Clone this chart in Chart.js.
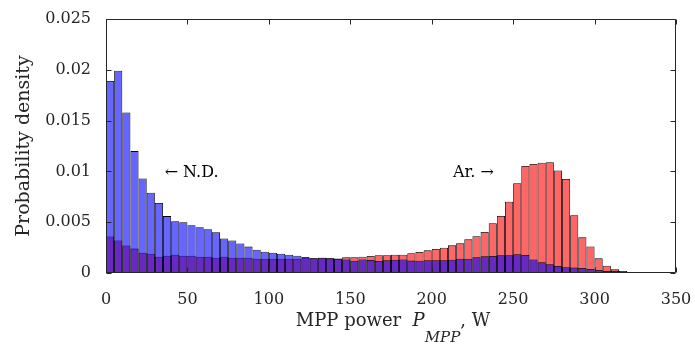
<!DOCTYPE html>
<html><head><meta charset="utf-8">
<script src="https://cdn.jsdelivr.net/npm/chart.js@4.4.0/dist/chart.umd.min.js"></script>
<style>html,body{margin:0;padding:0;background:#fff;}canvas{display:block;}</style>
</head><body>
<canvas id="c" width="695" height="349"></canvas>
<script>
// Bin centres of the 5 W wide histogram bins (W)
const binCenters = [2.5,7.5,12.5,17.5,22.5,27.5,32.5,37.5,42.5,47.5,
  52.5,57.5,62.5,67.5,72.5,77.5,82.5,87.5,92.5,97.5,
  102.5,107.5,112.5,117.5,122.5,127.5,132.5,137.5,142.5,147.5,
  152.5,157.5,162.5,167.5,172.5,177.5,182.5,187.5,192.5,197.5,
  202.5,207.5,212.5,217.5,222.5,227.5,232.5,237.5,242.5,247.5,
  252.5,257.5,262.5,267.5,272.5,277.5,282.5,287.5,292.5,297.5,
  302.5,307.5,312.5,317.5,322.5,327.5,332.5,337.5,342.5,347.5];

// N.D. (blue) probability density per bin
const ndDensity = [0.0189,0.0199,0.0158,0.0120,0.0093,0.0079,0.0069,0.0056,0.0051,0.0050,
  0.0047,0.0045,0.0043,0.0040,0.0034,0.0032,0.0029,0.0026,0.0023,0.0021,
  0.0020,0.0019,0.0018,0.0017,0.00157,0.00146,0.0015,0.00144,0.00142,0.00134,
  0.00121,0.00134,0.00128,0.00118,0.00125,0.00131,0.00134,0.00122,0.0012,0.00125,
  0.00125,0.00125,0.00131,0.00141,0.00141,0.00154,0.00164,0.00167,0.00174,0.00174,
  0.00184,0.00177,0.00134,0.00105,0.00085,0.00069,0.00056,0.00053,0.00049,0.00039,
  0.0003,0.0002,0.0002,0.0001,0.00007,0.00005,0.00003,0.00002,0.00001,0.00001];

// Ar. (red) probability density per bin
const arDensity = [0.0036,0.0032,0.0027,0.0024,0.0020,0.0019,0.0016,0.0017,0.0018,0.0017,
  0.0017,0.0016,0.0016,0.0015,0.0016,0.0015,0.0015,0.0015,0.0014,0.0014,
  0.0014,0.0014,0.0014,0.0014,0.0015,0.00144,0.0015,0.00144,0.00138,0.00154,
  0.00154,0.0016,0.00167,0.00174,0.00174,0.0018,0.0018,0.00195,0.00206,0.00223,
  0.00236,0.00249,0.00272,0.00292,0.00331,0.00361,0.00404,0.00489,0.00561,0.00702,
  0.00883,0.01053,0.01073,0.01086,0.0109,0.0101,0.00925,0.00568,0.00351,0.00262,
  0.00144,0.00072,0.00036,0.0002,0.0001,0.00008,0.00005,0.00004,0.00002,0.00001];

const xTicks = [0,50,100,150,200,250,300,350];
const yTicks = [0,0.005,0.01,0.015,0.02,0.025];
const yTickLabels = ['0','0.005','0.01','0.015','0.02','0.025'];
const yTitle = 'Probability density';
const xTitleParts = ['MPP power  ','P','MPP',', W'];
const annotations = [
  {text:'\u2190 N.D.', x:36, y:0.0099},
  {text:'Ar. \u2192', x:213, y:0.0099}
];

const FONT = '"DejaVu Serif", "Liberation Serif", serif';
const AX = '#262626';

const decorPlugin = {
  id:'decor',
  afterDatasetsDraw(chart){
    const {ctx, chartArea:{left,right,top,bottom}, scales:{x,y}} = chart;
    ctx.save();
    ctx.strokeStyle = AX; ctx.lineWidth = 1;
    const L = Math.round(left)+0.5, R = Math.round(right)-0.5, T = Math.round(top)+0.5, B = Math.round(bottom)-0.5;
    ctx.beginPath();
    ctx.rect(L, T, R-L, B-T);
    xTicks.forEach(v=>{
      const px = Math.round(x.getPixelForValue(v))+0.5;
      ctx.moveTo(px,B); ctx.lineTo(px,B-5);
      ctx.moveTo(px,T); ctx.lineTo(px,T+5);
    });
    yTicks.forEach(v=>{
      const py = Math.round(y.getPixelForValue(v))+0.5;
      ctx.moveTo(L,py); ctx.lineTo(L+5,py);
      ctx.moveTo(R,py); ctx.lineTo(R-5,py);
    });
    ctx.stroke();
    // annotations
    ctx.fillStyle = '#000';
    ctx.font = '16px ' + FONT;
    ctx.textBaseline = 'middle'; ctx.textAlign = 'left';
    annotations.forEach(a=>{
      ctx.fillText(a.text, x.getPixelForValue(a.x), y.getPixelForValue(a.y));
    });
    // x-axis title with subscript
    const mainF = '18px ' + FONT, itF = 'italic 18px ' + FONT, subF = 'italic 15px ' + FONT;
    const specs = [
      {t:xTitleParts[0], f:mainF, dy:0},
      {t:xTitleParts[1], f:itF, dy:0},
      {t:xTitleParts[2], f:subF, dy:16},
      {t:xTitleParts[3], f:mainF, dy:0}
    ];
    let total = 0;
    specs.forEach(s=>{ctx.font=s.f; s.w=ctx.measureText(s.t).width; total+=s.w;});
    let cx = (left+right)/2 + 2 - total/2;
    ctx.textBaseline = 'alphabetic'; ctx.fillStyle = AX;
    const base = 326;
    specs.forEach(s=>{ctx.font=s.f; ctx.fillText(s.t, cx, base+s.dy); cx+=s.w;});
    ctx.restore();
  }
};

const barCommon = {borderWidth:0.8, borderSkipped:false, inflateAmount:0, grouped:false, barPercentage:1, categoryPercentage:1};

function zeroPad(s){ s.paddingLeft = 0; s.paddingRight = 0; s.paddingTop = 0; s.paddingBottom = 0; }

new Chart(document.getElementById('c'), {
  type:'bar',
  data:{
    datasets:[
      Object.assign({label:'N.D.', data:binCenters.map((c,i)=>({x:c, y:ndDensity[i]})),
        backgroundColor:'rgba(0,0,255,0.6)', borderColor:'#000', order:0}, barCommon),
      Object.assign({label:'Ar.', data:binCenters.map((c,i)=>({x:c, y:arDensity[i]})),
        backgroundColor:'rgba(255,0,0,0.6)', borderColor:'#000', order:1}, barCommon)
    ]
  },
  options:{
    responsive:false, animation:false, devicePixelRatio:1,
    layout:{padding:{top:19, right:19, left:0, bottom:0}},
    plugins:{legend:{display:false}, tooltip:{enabled:false}},
    scales:{
      x:{type:'linear', min:0, max:350, offset:false,
        afterBuildTicks(s){ s.ticks = xTicks.map(v=>({value:v})); },
        ticks:{font:{family:FONT, size:16}, color:AX, padding:17, maxRotation:0, autoSkip:false},
        grid:{display:false, drawTicks:false}, border:{display:false},
        afterFit(s){ s.height = 76; zeroPad(s); }},
      y:{type:'linear', min:0, max:0.025,
        afterBuildTicks(s){ s.ticks = yTicks.map(v=>({value:v})); },
        ticks:{font:{family:FONT, size:16}, color:AX, padding:15,
          callback(v){ const i = yTicks.findIndex(t=>Math.abs(t-v)<1e-9); return i>=0 ? yTickLabels[i] : ''; }},
        grid:{display:false, drawTicks:false}, border:{display:false},
        title:{display:true, text:yTitle, font:{family:FONT, size:19}, color:AX, padding:{top:13, bottom:0}},
        afterFit(s){ s.width = 106; zeroPad(s); }}
    }
  },
  plugins:[decorPlugin]
});
</script>
</body></html>
